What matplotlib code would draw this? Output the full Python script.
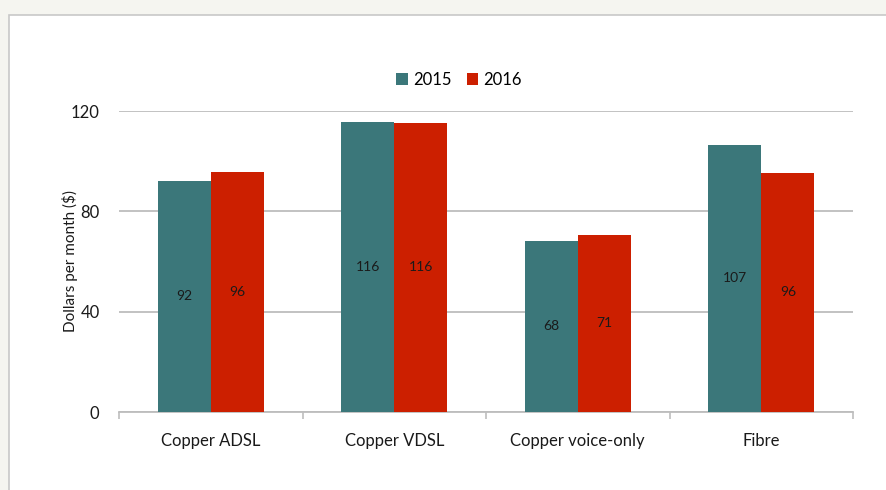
import matplotlib.pyplot as plt
import matplotlib.patches as mpatches
import numpy as np

plt.rcParams['font.family'] = ['Lato', 'DejaVu Sans']

categories = ["Copper ADSL", "Copper VDSL", "Copper voice-only", "Fibre"]
series_names = ["2015", "2016"]
values_2015 = [92.2, 115.7, 68.3, 106.6]
values_2016 = [95.8, 115.3, 70.7, 95.4]
labels_2015 = ["92", "116", "68", "107"]
labels_2016 = ["96", "116", "71", "96"]
yticks = [0, 40, 80, 120]

teal = "#3b777a"
red = "#cc1f00"

fig = plt.figure(figsize=(8.86, 4.90), dpi=100, facecolor="#f5f5f0")
# white chart panel with thin grey frame
panel = mpatches.Rectangle((9 / 886, -0.05), 1.0, 1 - 15 / 490 + 0.05,
                           transform=fig.transFigure, facecolor="white",
                           edgecolor="#c8c8c8", linewidth=1.2, zorder=-1)
fig.patches.append(panel)

ax = fig.add_axes([119 / 886, 1 - 412 / 490, (853 - 119) / 886, (412 - 111) / 490])
ax.set_facecolor("none")

x = np.arange(len(categories))
w = 0.29
b1 = ax.bar(x - w / 2, values_2015, w, color=teal, label=series_names[0], zorder=3)
b2 = ax.bar(x + w / 2, values_2016, w, color=red, label=series_names[1], zorder=3)

for bars, labs in ((b1, labels_2015), (b2, labels_2016)):
    for r, lab in zip(bars, labs):
        ax.text(r.get_x() + r.get_width() / 2, r.get_height() / 2, lab,
                ha="center", va="center", fontsize=10, color="#1a1a1a", zorder=4)

ax.set_xlim(-0.5, len(categories) - 0.5)
ax.set_ylim(0, 120)
ax.set_yticks(yticks)
ax.yaxis.grid(True, color="#bdbdbd", linewidth=1.3, zorder=1)
ax.set_axisbelow(True)
ax.tick_params(axis="y", length=0, pad=14, labelsize=12, colors="#1a1a1a")

ax.set_xticks(x)
ax.set_xticklabels(categories)
ax.set_xticks(np.arange(len(categories) + 1) - 0.5, minor=True)
ax.tick_params(axis="x", which="major", length=0, pad=15, labelsize=12, colors="#1a1a1a")
ax.tick_params(axis="x", which="minor", length=5, width=1.2, color="#bdbdbd")

for s in ("top", "right", "left"):
    ax.spines[s].set_visible(False)
ax.spines["bottom"].set_color("#bdbdbd")
ax.spines["bottom"].set_linewidth(1.3)

ax.set_ylabel("Dollars per month ($)", fontsize=11, color="#1a1a1a")
ax.yaxis.set_label_coords(-0.056, 0.5)

fig.legend(handles=[b1, b2], loc="center", bbox_to_anchor=(459 / 886, 1 - 80 / 490),
           ncol=2, frameon=False, fontsize=12, handlelength=0.7, handleheight=0.7,
           handletextpad=0.3, columnspacing=0.9)

fig.savefig("out.png", dpi=100, facecolor=fig.get_facecolor())
